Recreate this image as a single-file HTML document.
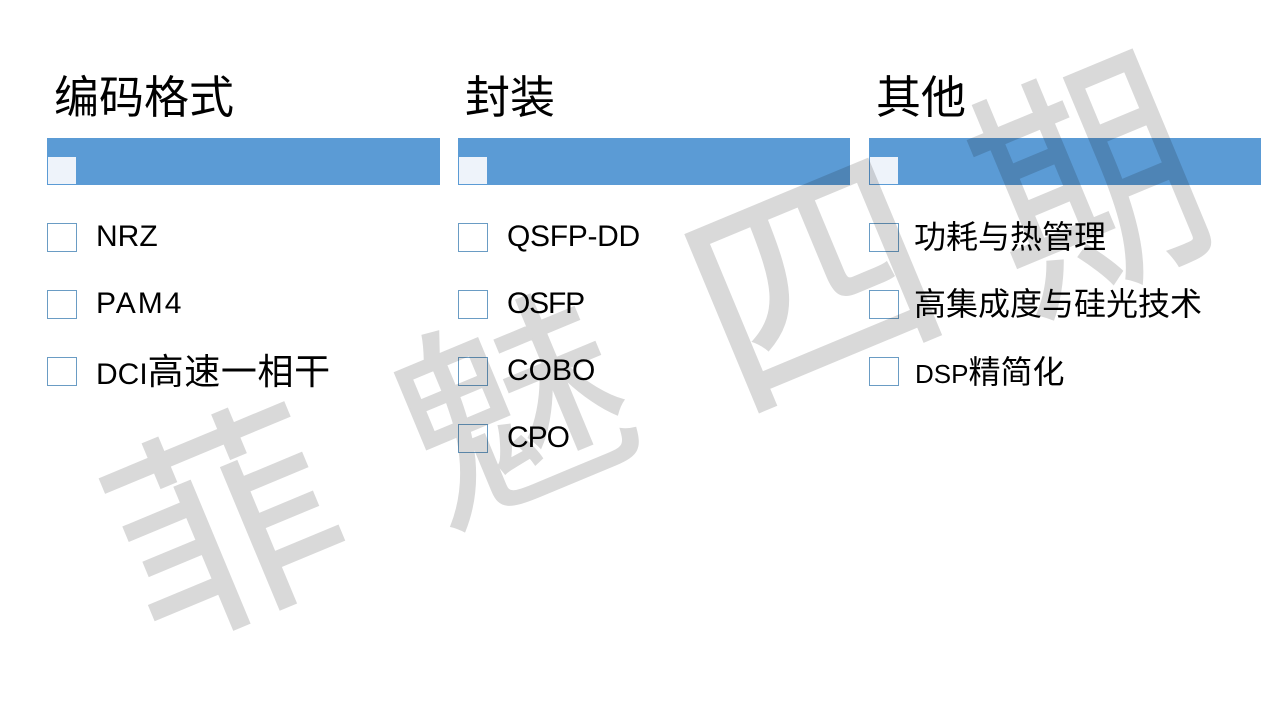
<!DOCTYPE html>
<html><head><meta charset="utf-8">
<style>
html,body{margin:0;padding:0;background:#fff}
#p{position:relative;width:1280px;height:720px;overflow:hidden;background:#fff;font-family:"Liberation Sans","Noto Sans CJK SC",sans-serif;color:#000}
.t{position:absolute;font-size:45px;line-height:60px;top:68px;white-space:nowrap}
.b{position:absolute;top:138px;height:47px;background:#5b9bd5}
.s{position:absolute;top:157px;width:28px;height:26px;background:#eef3fa;border:1px solid #5b9bd5;border-top:0;border-right:0;padding-top:1px}
.c{position:absolute;width:28px;height:27px;border:1px solid #6a9cc4;background:transparent}
.l{position:absolute;font-size:30px;line-height:40px;white-space:nowrap}
.z{font-size:32px}
.w{position:absolute;font-family:"Noto Sans CJK SC",sans-serif;font-size:225px;line-height:225px;width:225px;height:225px;text-align:center;color:#d9d9d9;-webkit-text-stroke:1.5px #d9d9d9;mix-blend-mode:multiply}
</style></head><body><div id="p">
<div class="t" style="left:54px">编码格式</div>
<div class="t" style="left:465px">封装</div>
<div class="t" style="left:876px">其他</div>
<div class="b" style="left:47px;width:393px"></div>
<div class="b" style="left:458px;width:392px"></div>
<div class="b" style="left:869px;width:392px"></div>
<div class="s" style="left:47px"></div>
<div class="s" style="left:458px"></div>
<div class="s" style="left:869px"></div>

<div class="c" style="left:47px;top:223px"></div>
<div class="c" style="left:47px;top:290px"></div>
<div class="c" style="left:47px;top:357px"></div>
<div class="c" style="left:458px;top:223px"></div>
<div class="c" style="left:458px;top:290px"></div>
<div class="c" style="left:458px;top:357px"></div>
<div class="c" style="left:458px;top:424px"></div>
<div class="c" style="left:869px;top:223px"></div>
<div class="c" style="left:869px;top:290px"></div>
<div class="c" style="left:869px;top:357px"></div>

<div class="l" style="left:96px;top:217px">NRZ</div>
<div class="l" style="left:96px;top:284px;letter-spacing:2px">PAM4</div>
<div class="l" style="left:96px;top:352px">DCI<span style="font-size:36px;letter-spacing:.6px">高速一相干</span></div>
<div class="l" style="left:507px;top:217px;letter-spacing:-.3px">QSFP-DD</div>
<div class="l" style="left:507px;top:284px;letter-spacing:-1.2px">OSFP</div>
<div class="l" style="left:507px;top:351px">COBO</div>
<div class="l" style="left:507px;top:418px;letter-spacing:-1px">CPO</div>
<div class="l z" style="left:914px;top:217px">功耗与热管理</div>
<div class="l z" style="left:914px;top:284px">高集成度与硅光技术</div>
<div class="l" style="left:915px;top:352px"><span style="font-size:26px">DSP</span><span class="z">精简化</span></div>

<div class="w" style="left:108px;top:398px;transform:rotate(-22.6deg)">菲</div>
<div class="w" style="left:396px;top:282px;transform:rotate(-22.6deg) scale(1,.95)">魅</div>
<div class="w" style="left:694px;top:155px;transform:rotate(-22.6deg) scale(1.07,1.07)">四</div>
<div class="w" style="left:970px;top:55px;transform:rotate(-22.6deg) scale(.95,1.12)">期</div>
</div></body></html>
